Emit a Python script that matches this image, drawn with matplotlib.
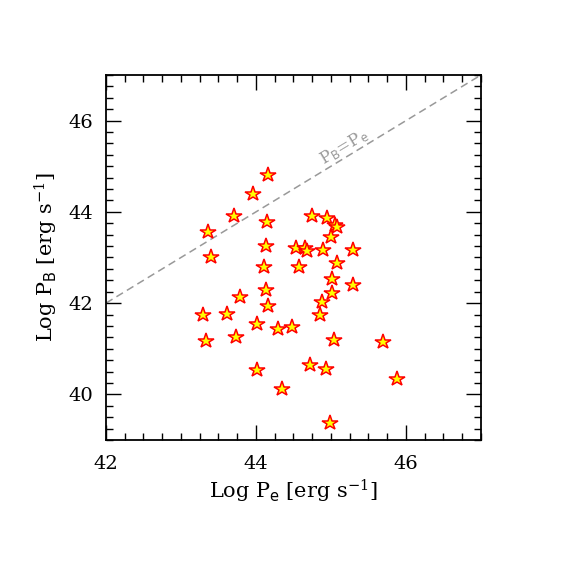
import numpy as np
import matplotlib.pyplot as plt
from matplotlib.ticker import MultipleLocator

plt.rcParams['font.family'] = ['DejaVu Serif']
plt.rcParams['mathtext.fontset'] = 'dejavuserif'

# log P_e and log P_B
log_pe = [44.16, 43.96, 43.71, 43.36, 44.15, 43.40, 44.13, 44.11, 44.13, 43.79,
          44.16, 44.75, 44.95, 45.06, 45.08, 45.00, 44.54, 44.65, 44.68, 44.90,
          45.29, 44.58, 45.08, 45.01, 45.29, 45.02, 44.88, 43.29, 43.61, 44.85,
          44.01, 44.30, 44.48, 43.34, 43.74, 45.04, 44.02, 44.72, 44.94, 44.35,
          44.99, 45.70, 45.88]
log_pb = [44.80, 44.39, 43.92, 43.55, 43.77, 43.01, 43.25, 42.79, 42.28, 42.14,
          41.93, 43.91, 43.86, 43.72, 43.66, 43.44, 43.21, 43.21, 43.14, 43.17,
          43.16, 42.80, 42.88, 42.53, 42.39, 42.22, 42.02, 41.73, 41.77, 41.75,
          41.55, 41.44, 41.47, 41.18, 41.26, 41.20, 40.53, 40.64, 40.56, 40.11,
          39.37, 41.15, 40.34]

xlim = (42, 47)
ylim = (39, 47)

fig = plt.figure(figsize=(5.72, 5.72), dpi=100)
ax = fig.add_axes([0.1853, 0.2308, 0.6556, 0.6381])

# equipartition line
eq = np.array(xlim)
ax.plot(eq, eq, ls=(0, (5, 3)), color='#999999', lw=1.1, zorder=1)
ax.text(45.17, 45.42, r'P$_\mathsf{B}$=P$_\mathsf{e}$', color='#999999',
        fontsize=12, rotation=31, ha='center', va='center')

ax.plot(log_pe, log_pb, ls='none', marker='*', markersize=11.5,
        markerfacecolor='yellow', markeredgecolor='red', markeredgewidth=1.1,
        zorder=3)

ax.set_xlim(*xlim)
ax.set_ylim(*ylim)
ax.xaxis.set_major_locator(MultipleLocator(2))
ax.yaxis.set_major_locator(MultipleLocator(2))
ax.xaxis.set_minor_locator(MultipleLocator(0.25))
ax.yaxis.set_minor_locator(MultipleLocator(0.25))
ax.tick_params(which='both', direction='in', top=True, right=True, width=1.0,
               labelsize=14)
ax.tick_params(axis='x', which='both', pad=11)
ax.tick_params(axis='y', which='both', pad=9)
ax.tick_params(which='major', length=11)
ax.tick_params(which='minor', length=5)
for s in ax.spines.values():
    s.set_linewidth(1.3)

ax.set_xlabel(r'Log P$_\mathsf{e}$ [erg s$^{-1}$]', fontsize=15, labelpad=3)
ax.set_ylabel(r'Log P$_\mathsf{B}$ [erg s$^{-1}$]', fontsize=15, labelpad=6)

fig.savefig('out.png', dpi=100)
